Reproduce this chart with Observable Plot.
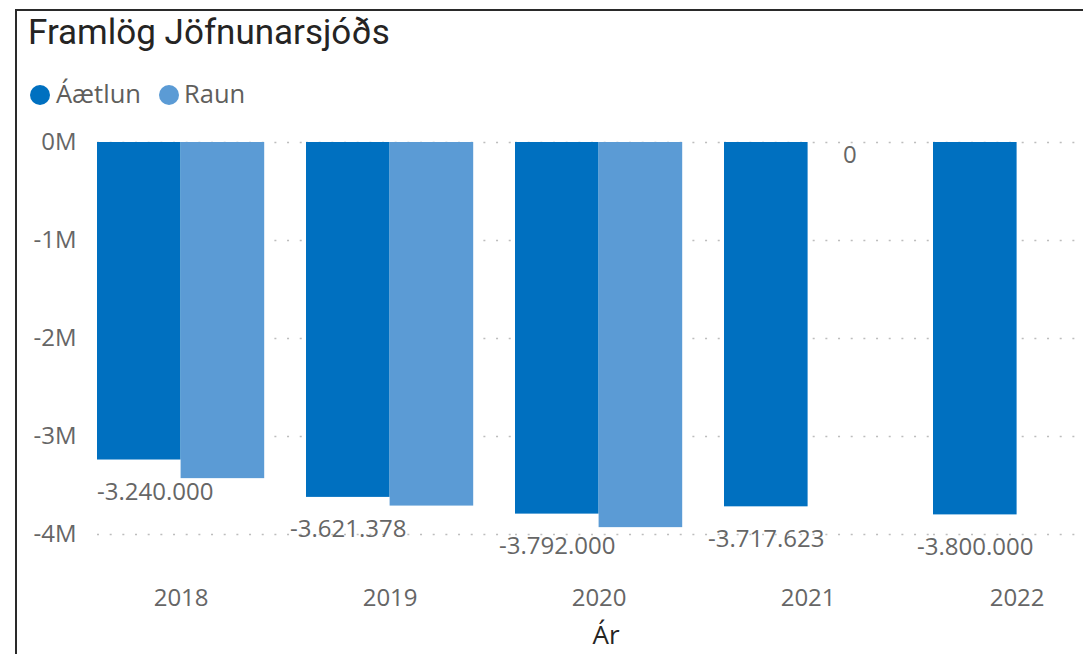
<!DOCTYPE html>
<html><head><meta charset="utf-8">
<script src="https://cdn.jsdelivr.net/npm/d3@7"></script>
<script src="https://cdn.jsdelivr.net/npm/@observablehq/plot@0.6"></script>
<style>
html,body{margin:0;padding:0;background:#fff;overflow:hidden;width:1083px;height:654px;}
#wrap{position:relative;width:1083px;height:654px;overflow:hidden;}
#frame{position:absolute;left:15px;top:9px;width:2000px;height:2000px;border-top:2px solid #2a2a2a;border-left:2px solid #2a2a2a;pointer-events:none;z-index:2;}
#header{position:relative;height:118px;}
#title{position:absolute;left:28px;top:15px;font-family:Roboto,sans-serif;font-size:35px;line-height:1;color:#252423;white-space:nowrap;}
.dot{position:absolute;width:20px;height:20px;border-radius:50%;}
.lab{position:absolute;font-family:'Open Sans',sans-serif;font-size:25.5px;line-height:1;color:#605E5C;white-space:nowrap;}
#chart svg{display:block;overflow:visible;}
</style></head>
<body><div id="wrap"><div id="frame"></div>
<div id="header">
<div id="title"></div>
<div id="legend"></div>
</div>
<div id="chart"></div></div>
<script>
const title = "Framlög Jöfnunarsjóðs";
const years = ["2018", "2019", "2020", "2021", "2022"];
const seriesNames = ["Áætlun", "Raun"];
const aetlun = [-3240000, -3621378, -3792000, -3717623, -3800000];
const raun = [-3430000, -3710000, -3930000, 0, null];
const yTicks = [0, -1000000, -2000000, -3000000, -4000000];
const colors = ["#0070C0", "#5B9BD5"];
const xTitle = "Ár";

document.getElementById("title").textContent = title;
const legend = document.getElementById("legend");
const legendPos = [[30, 56], [159, 184]];
seriesNames.forEach((s, i) => {
  const d = document.createElement("div");
  d.className = "dot"; d.style.background = colors[i];
  d.style.left = legendPos[i][0] + "px"; d.style.top = "85px";
  legend.appendChild(d);
  const t = document.createElement("div");
  t.className = "lab"; t.textContent = s;
  t.style.left = legendPos[i][1] + "px"; t.style.top = "81px";
  legend.appendChild(t);
});

const data = [];
years.forEach((y, i) => {
  data.push({year: y, series: seriesNames[0], value: aetlun[i]});
  if (raun[i] !== null) data.push({year: y, series: seriesNames[1], value: raun[i]});
});
const fmt = d3.formatLocale({decimal: ",", thousands: ".", grouping: [3], currency: ["", ""], minus: "-"}).format(",");
const aeData = data.filter(d => d.series === seriesNames[0]);
const raZero = data.filter(d => d.series === seriesNames[1] && d.value === 0);

const chart = Plot.plot({
  width: 1083,
  height: 536,
  marginTop: 24,
  marginBottom: 120,
  marginLeft: 97,
  marginRight: 0,
  style: {fontFamily: "'Open Sans', sans-serif", fontSize: "24px", color: "#666666", background: "transparent"},
  fx: {domain: years, range: [97, 1100.2], paddingInner: 0.2, paddingOuter: 0, round: false, axis: null},
  x: {domain: seriesNames, padding: 0, round: false, axis: null},
  y: {domain: [-4000000, 0], axis: null},
  color: {domain: seriesNames, range: colors},
  marks: [
    Plot.ruleY(yTicks, {insetRight: -42, stroke: "#bdbdbd", strokeWidth: 1.5, strokeDasharray: "2,10.67"}),
    Plot.barY(data, {fx: "year", x: "series", y: "value", fill: "series"}),
    Plot.axisY(yTicks, {tickSize: 0, tickPadding: 21, tickFormat: d => `${d / 1000000}M`, fill: "#666666", fontSize: 24, label: null}),
    Plot.axisFx({anchor: "bottom", tickSize: 0, tickPadding: 54, fill: "#666666", fontSize: 24, label: null}),
    Plot.text(aeData.filter(d => d.year !== years[0]), {fx: "year", x: "series", y: "value", text: d => fmt(d.value), dy: 32, fill: "#666666", fontSize: 24}),
    Plot.text(aeData.filter(d => d.year === years[0]), {fx: "year", x: "series", y: "value", text: d => fmt(d.value), dy: 32, dx: 16, fill: "#666666", fontSize: 24}),
    Plot.text(raZero, {fx: "year", x: "series", y: "value", text: d => fmt(d.value), dy: 13, fill: "#666666", fontSize: 24}),
    Plot.text([xTitle], {facet: "super", frameAnchor: "bottom", dx: 7, dy: 109, fill: "#252423", fontSize: 26})
  ]
});
document.getElementById("chart").appendChild(chart);
</script>
</body></html>
